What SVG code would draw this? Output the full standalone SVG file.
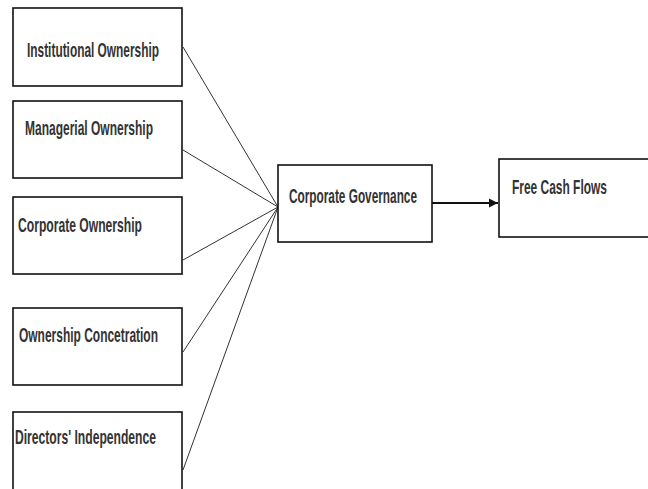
<svg xmlns="http://www.w3.org/2000/svg" width="648" height="489" viewBox="0 0 648 489">
<defs>
<style>
.box{fill:#fff;stroke:#111;stroke-width:1.6}
.lbl{font-family:"Liberation Sans",Arial,sans-serif;font-size:20.5px;font-weight:bold;fill:#333;}
.cn{stroke:#333;stroke-width:1;fill:none}
</style>
<marker id="ah" viewBox="0 0 10 10" refX="10" refY="5" markerWidth="9" markerHeight="12" markerUnits="userSpaceOnUse" orient="auto">
<path d="M0,0 L10,5 L0,10 z" fill="#111"/>
</marker>
</defs>
<rect width="648" height="489" fill="#fff"/>
<g id="connectors">
<line class="cn" x1="183" y1="47" x2="278" y2="207"/>
<line class="cn" x1="183" y1="150" x2="278" y2="207" stroke-width="1.6"/>
<line class="cn" x1="183" y1="260" x2="278" y2="207" stroke-width="1.6"/>
<line class="cn" x1="183" y1="352" x2="278" y2="207"/>
<line class="cn" x1="183" y1="470" x2="278" y2="207"/>
<line x1="432" y1="203" x2="498" y2="203" stroke="#111" stroke-width="1.8" marker-end="url(#ah)"/>
</g>
<g id="n1"><rect class="box" x="13" y="8" width="169" height="78"/><text class="lbl" x="27" y="57" textLength="132" lengthAdjust="spacingAndGlyphs">Institutional Ownership</text></g>
<g id="n2"><rect class="box" x="13" y="101" width="169" height="77"/><text class="lbl" x="25" y="135" textLength="128" lengthAdjust="spacingAndGlyphs">Managerial Ownership</text></g>
<g id="n3"><rect class="box" x="13" y="197" width="169" height="77"/><text class="lbl" x="18" y="232" textLength="124" lengthAdjust="spacingAndGlyphs">Corporate Ownership</text></g>
<g id="n4"><rect class="box" x="13" y="308" width="169" height="77"/><text class="lbl" x="19" y="342" textLength="139" lengthAdjust="spacingAndGlyphs">Ownership Concetration</text></g>
<g id="n5"><rect class="box" x="13" y="412" width="169" height="90"/><text class="lbl" x="15" y="444" textLength="141" lengthAdjust="spacingAndGlyphs">Directors' Independence</text></g>
<g id="n6"><rect class="box" x="278" y="165" width="154" height="77"/><text class="lbl" x="289" y="203" textLength="128" lengthAdjust="spacingAndGlyphs">Corporate Governance</text></g>
<g id="n7"><rect class="box" x="499" y="159" width="160" height="78"/><text class="lbl" x="512" y="194" textLength="95" lengthAdjust="spacingAndGlyphs">Free Cash Flows</text></g>
</svg>
